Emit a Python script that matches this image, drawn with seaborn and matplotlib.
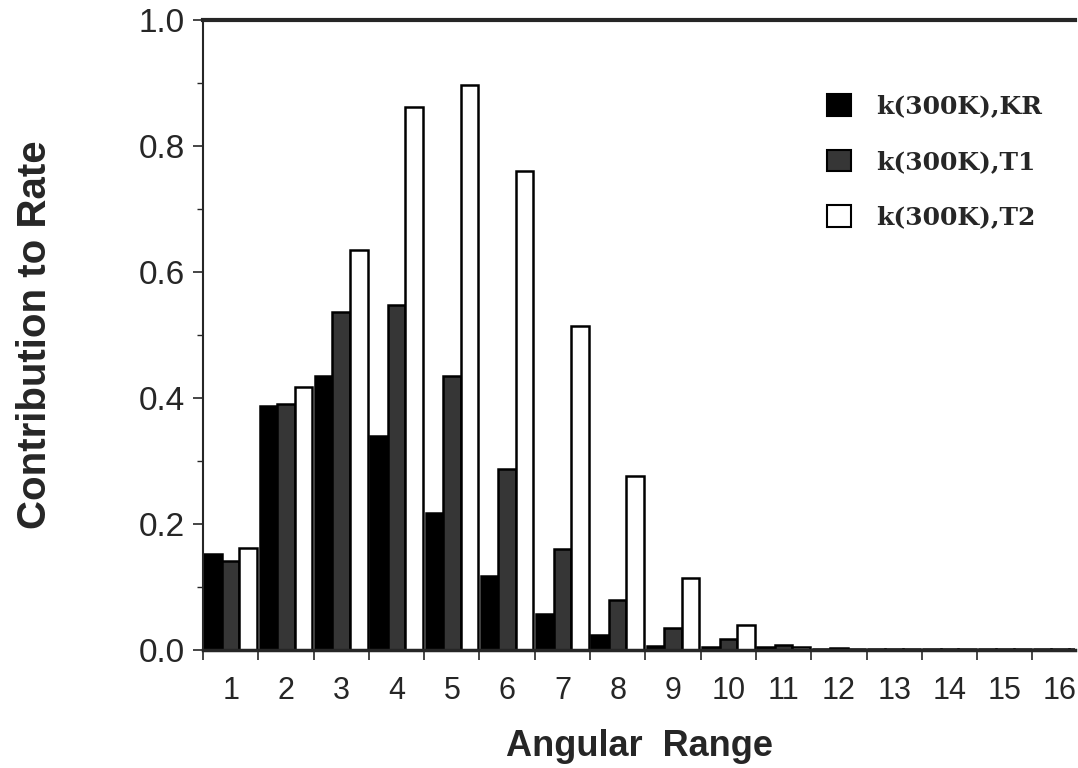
import numpy as np
import pandas as pd
import matplotlib
matplotlib.use("Agg")
import matplotlib.pyplot as plt
import seaborn as sns
from matplotlib.ticker import MultipleLocator, FixedLocator
from matplotlib.patches import Patch

# ---- data ----
angular_range = [str(i) for i in range(1, 17)]
series_names = ["k(300K),KR", "k(300K),T1", "k(300K),T2"]
kr = [0.153, 0.387, 0.435, 0.340, 0.217, 0.118, 0.057, 0.024, 0.006, 0.004, 0.004, 0.002, 0.002, 0.001, 0.001, 0.001]
t1 = [0.142, 0.390, 0.537, 0.548, 0.435, 0.288, 0.160, 0.080, 0.035, 0.018, 0.008, 0.003, 0.002, 0.002, 0.001, 0.001]
t2 = [0.162, 0.417, 0.635, 0.862, 0.897, 0.760, 0.515, 0.276, 0.114, 0.039, 0.004, 0.002, 0.002, 0.001, 0.001, 0.001]
y_ticks = [0.0, 0.2, 0.4, 0.6, 0.8, 1.0]
y_tick_labels = ["0.0", "0.2", "0.4", "0.6", "0.8", "1.0"]

df = pd.DataFrame({
    "Angular Range": angular_range * 3,
    "series": [series_names[0]] * 16 + [series_names[1]] * 16 + [series_names[2]] * 16,
    "value": kr + t1 + t2,
})

sns.set_style("ticks")
plt.rcParams["font.family"] = ["Liberation Sans", "DejaVu Sans"]

fig = plt.figure(figsize=(10.78, 7.68), dpi=100)
ax = fig.add_axes([203 / 1078, 118 / 768, (1075 - 203) / 1078, 630 / 768])

palette = {series_names[0]: "#000000", series_names[1]: "#363636", series_names[2]: "#ffffff"}
sns.barplot(data=df, x="Angular Range", y="value", hue="series", order=angular_range,
            hue_order=series_names, palette=palette, width=0.95, gap=0,
            edgecolor="black", linewidth=1.8, saturation=1, ax=ax, legend=False)

ax.set_ylim(0, 1.0)
ax.set_xlim(-0.5, 15.27)
ax.set_yticks(y_ticks)
ax.set_yticklabels(y_tick_labels)
ax.yaxis.set_minor_locator(MultipleLocator(0.1))
ax.tick_params(axis="y", which="major", length=7, width=1.2, labelsize=24, pad=6)
ax.tick_params(axis="y", which="minor", length=4, width=1.0)

# x: labels at centers without marks, marks at group boundaries
ax.set_xticks(range(16))
ax.set_xticklabels(angular_range)
ax.tick_params(axis="x", which="major", length=0, labelsize=22, pad=19)
ax.xaxis.set_minor_locator(FixedLocator(np.arange(-0.5, 15.3, 1.0)))
ax.tick_params(axis="x", which="minor", length=7, width=1.2, direction="out")

ax.spines["left"].set_linewidth(1.5)
ax.spines["bottom"].set_linewidth(2.5)
ax.spines["top"].set_linewidth(3.0)
ax.spines["right"].set_visible(False)

ax.set_xlabel("Angular  Range", fontsize=26, fontweight="bold", labelpad=16)
ax.set_ylabel("Contribution to Rate", fontsize=29, fontweight="bold")
ax.yaxis.set_label_coords((54 - 203) / 872, 0.5)

# legend
handles = [Patch(facecolor=palette[n], edgecolor="black", linewidth=1.5) for n in series_names]
fig.legend(handles, series_names, loc="upper left",
           bbox_to_anchor=(827 / 1078, (768 - 94) / 768), bbox_transform=fig.transFigure,
           frameon=False, prop={"family": "DejaVu Serif", "size": 18, "weight": "bold"},
           handlelength=0.95, handleheight=0.95, handletextpad=1.0,
           labelspacing=1.25, borderpad=0, borderaxespad=0)

fig.savefig("out.png", dpi=100)
